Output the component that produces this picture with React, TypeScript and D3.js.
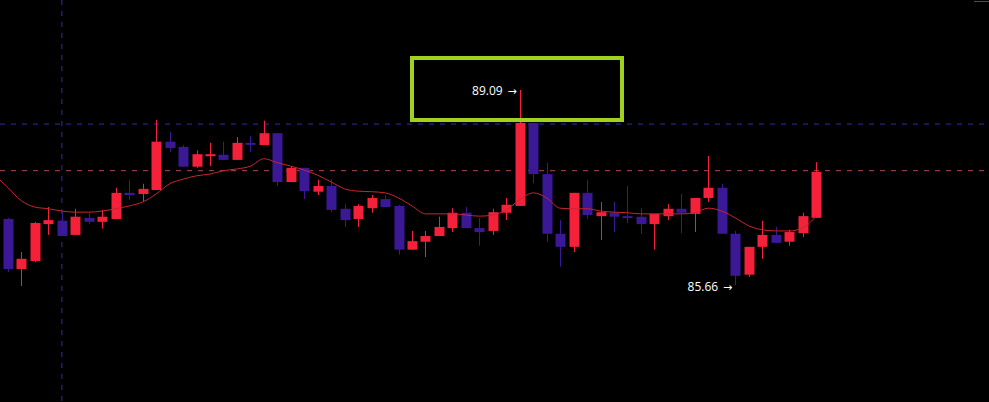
import * as d3 from 'd3';

// OHLC, one entry per candle
const opens = [86.82, 85.94, 86.08, 86.73, 86.79, 86.54, 86.84, 86.77, 86.82, 87.28, 87.26, 87.33, 88.18, 88.09, 87.74, 87.93, 87.95, 87.86, 88.16, 88.12, 88.33, 87.47, 87.72, 87.30, 87.40, 87.00, 86.82, 87.01, 87.17, 87.05, 86.28, 86.42, 86.52, 86.66, 86.93, 86.66, 86.61, 86.93, 87.05, 88.51, 87.61, 86.56, 86.33, 87.28, 86.87, 86.93, 86.87, 86.86, 86.73, 86.87, 87.00, 86.91, 87.19, 87.37, 86.56, 85.84, 86.33, 86.54, 86.42, 86.57, 86.84];
const highs = [86.84, 86.24, 86.77, 87.03, 86.94, 87.00, 86.93, 86.98, 87.37, 87.51, 87.44, 88.56, 88.35, 88.12, 88.03, 88.16, 88.18, 88.26, 88.28, 88.55, 88.33, 87.74, 87.72, 87.51, 87.52, 87.08, 87.08, 87.24, 87.24, 87.07, 86.61, 86.61, 86.86, 87.01, 87.03, 86.84, 87.00, 87.19, 89.09, 88.51, 87.81, 86.80, 87.28, 87.51, 87.12, 87.12, 87.40, 87.01, 86.91, 87.08, 87.26, 87.19, 87.93, 87.44, 86.61, 86.33, 86.79, 86.68, 86.63, 86.93, 87.82];
const lows = [85.89, 85.64, 86.06, 86.54, 86.52, 86.54, 86.73, 86.65, 86.82, 87.16, 87.12, 87.33, 88.00, 87.74, 87.72, 87.75, 87.86, 87.86, 88.00, 88.12, 87.40, 87.47, 87.17, 87.24, 86.94, 86.68, 86.68, 86.93, 87.03, 86.19, 86.28, 86.15, 86.52, 86.59, 86.66, 86.35, 86.54, 86.80, 87.05, 87.45, 86.42, 85.98, 86.24, 86.82, 86.45, 86.59, 86.75, 86.56, 86.28, 86.80, 86.57, 86.59, 87.12, 86.56, 85.66, 85.80, 86.12, 86.40, 86.35, 86.50, 86.84];
const closes = [85.94, 86.12, 86.75, 86.80, 86.52, 86.86, 86.77, 86.86, 87.28, 87.24, 87.35, 88.18, 88.07, 87.74, 87.96, 87.96, 87.86, 88.16, 88.14, 88.33, 87.47, 87.72, 87.31, 87.40, 86.98, 86.80, 87.05, 87.19, 87.03, 86.28, 86.43, 86.52, 86.68, 86.93, 86.66, 86.59, 86.94, 87.07, 88.51, 87.61, 86.56, 86.33, 87.28, 86.89, 86.94, 86.86, 86.84, 86.73, 86.91, 87.00, 86.93, 87.19, 87.37, 86.56, 85.82, 86.33, 86.54, 86.40, 86.59, 86.87, 87.65];

// moving average as drawn (first value sits one bar before the first candle)
const maValues = [87.60, 87.37, 87.14, 87.03, 87.00, 86.96, 86.94, 86.94, 86.96, 87.00, 87.05, 87.12, 87.26, 87.44, 87.52, 87.58, 87.61, 87.67, 87.70, 87.75, 87.88, 87.81, 87.75, 87.68, 87.59, 87.47, 87.35, 87.31, 87.30, 87.28, 87.19, 87.05, 86.91, 86.91, 86.91, 86.89, 86.87, 86.89, 86.98, 87.16, 87.28, 87.19, 87.01, 87.00, 87.00, 86.96, 86.94, 86.93, 86.91, 86.91, 86.91, 86.91, 86.93, 87.01, 86.96, 86.84, 86.70, 86.63, 86.61, 86.61, 86.66, 86.87];

const levelHigh = 88.49;
const levelMid = 87.67;
const markerBar = 4;
const maxLabel = '89.09';
const minLabel = '85.66';
const maxBar = 38;
const minBar = 54;

const W = 989;
const H = 402;
const UP = '#f5213a';
const DOWN = '#3a1896';

function PriceTag({ px, py, label }: { px: number; py: number; label: string }) {
  return (
    <g>
      <text x={px - 17} y={py} fill="#fff" fontSize={12}
        fontFamily="'Open Sans', sans-serif" textAnchor="end">{label}</text>
      <text x={px - 3} y={py} fill="#fff" fontSize={11}
        fontFamily="'DejaVu Sans', sans-serif" textAnchor="end">→</text>
    </g>
  );
}

export default function App() {
  const x = d3.scaleLinear().domain([0, opens.length - 1]).range([8, 816]);
  const y = d3.scaleLinear().domain([83.6, 90.673]).range([H, 0]);
  const bodyW = 10;

  const candles = opens.map((o, i) => ({ o, h: highs[i], l: lows[i], c: closes[i], i }));

  const maLine = d3.line<number>()
    .x((_, i) => x(i - 1))
    .y(d => y(d))
    .curve(d3.curveMonotoneX)(maValues) || '';

  return (
    <svg width={W} height={H} style={{ position: 'fixed', left: 0, top: 0, background: '#000' }}>
      <rect x={0} y={0} width={W} height={H} fill="#000" />

      {/* reference lines */}
      <line x1={x(markerBar)} x2={x(markerBar)} y1={0} y2={H} stroke="#2e2eb0" strokeDasharray="5,6" strokeWidth={1} />
      <line x1={0} x2={W} y1={y(levelHigh)} y2={y(levelHigh)} stroke="#2e2eb0" strokeDasharray="5,6" strokeWidth={1} />
      <line x1={0} x2={W} y1={y(levelMid)} y2={y(levelMid)} stroke="#b04a4e" strokeDasharray="5,6" strokeWidth={1} />
      <line x1={974} x2={W} y1={1.5} y2={1.5} stroke="#4a4a70" strokeWidth={1} />

      {/* candles */}
      {candles.map(d => {
        const up = d.c >= d.o;
        const col = up ? UP : DOWN;
        const top = y(Math.max(d.o, d.c));
        const bot = y(Math.min(d.o, d.c));
        const cx = Math.round(x(d.i)) + 0.5;
        return (
          <g key={d.i}>
            <line x1={cx} x2={cx} y1={y(d.h)} y2={y(d.l)} stroke={col} strokeWidth={1} />
            <rect x={cx - bodyW / 2} y={top} width={bodyW} height={Math.max(bot - top, 2)} fill={col} />
          </g>
        );
      })}

      {/* moving average */}
      <path d={maLine} fill="none" stroke="#c8262e" strokeWidth={1} />

      {/* highlight box */}
      <rect x={412} y={58} width={210} height={62} fill="none" stroke="#9ed21e" strokeWidth={4} />

      <PriceTag px={x(maxBar)} py={y(highs[maxBar]) + 5} label={maxLabel} />
      <PriceTag px={x(minBar)} py={y(lows[minBar]) + 6} label={minLabel} />
    </svg>
  );
}
